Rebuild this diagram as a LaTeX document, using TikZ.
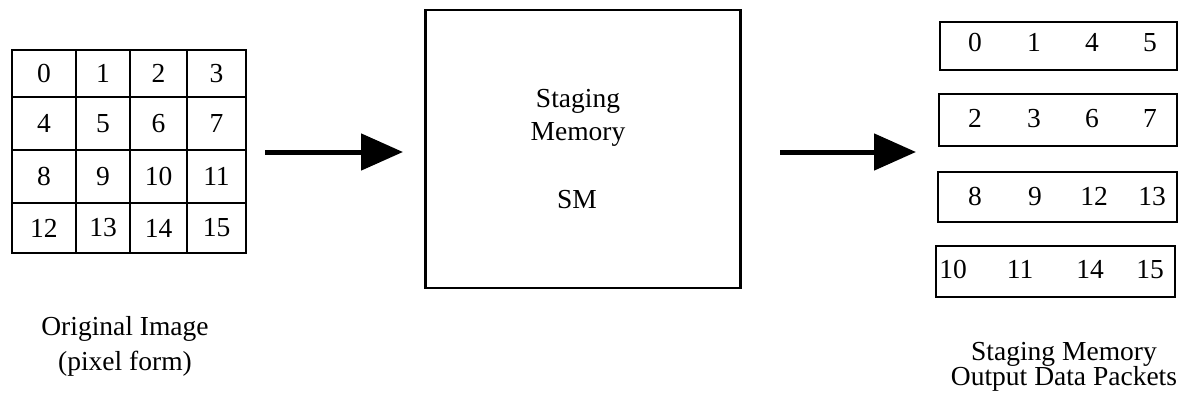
\documentclass[tikz,border=0pt]{standalone}
\usepackage{fontspec}
\setmainfont{Liberation Serif}
\usetikzlibrary{arrows.meta}
\begin{document}
\begin{tikzpicture}[x=1pt,y=-1pt,
  every node/.style={font=\fontsize{27.5}{30}\selectfont},
  cell/.style={draw, line width=2.8pt, inner sep=0pt, anchor=center},
  packet/.style={draw, line width=2.8pt, inner sep=0pt, anchor=center},
  smbox/.style={draw, line width=2.9pt, inner sep=0pt, anchor=center, minimum width=315pt, minimum height=278pt},
  num/.style={anchor=base, inner sep=0pt},
  lab/.style={anchor=base, inner sep=0pt},
  bigarrow/.style={line width=5pt, -{Triangle[length=42pt,width=36pt]}}]
\useasboundingbox (0,0) rectangle (1184,404);
% original image grid
\node[cell, minimum width=64pt, minimum height=47pt] (c0) at (44,73.5) {0};
\node[cell, minimum width=54pt, minimum height=47pt] (c1) at (103,73.5) {1};
\node[cell, minimum width=57pt, minimum height=47pt] (c2) at (158.5,73.5) {2};
\node[cell, minimum width=59pt, minimum height=47pt] (c3) at (216.5,73.5) {3};
\node[cell, minimum width=64pt, minimum height=53pt] (c4) at (44,123.5) {4};
\node[cell, minimum width=54pt, minimum height=53pt] (c5) at (103,123.5) {5};
\node[cell, minimum width=57pt, minimum height=53pt] (c6) at (158.5,123.5) {6};
\node[cell, minimum width=59pt, minimum height=53pt] (c7) at (216.5,123.5) {7};
\node[cell, minimum width=64pt, minimum height=53pt] (c8) at (44,176.5) {8};
\node[cell, minimum width=54pt, minimum height=53pt] (c9) at (103,176.5) {9};
\node[cell, minimum width=57pt, minimum height=53pt] (c10) at (158.5,176.5) {10};
\node[cell, minimum width=59pt, minimum height=53pt] (c11) at (216.5,176.5) {11};
\node[cell, minimum width=64pt, minimum height=50pt] (c12) at (44,228) {12};
\node[cell, minimum width=54pt, minimum height=50pt] (c13) at (103,228) {13};
\node[cell, minimum width=57pt, minimum height=50pt] (c14) at (158.5,228) {14};
\node[cell, minimum width=59pt, minimum height=50pt] (c15) at (216.5,228) {15};
\node[lab] (l1) at (125,335) {Original Image};
\node[lab] (l2) at (125,370) {(pixel form)};
% staging memory
\node[smbox] (sm) at (583,149) {};
\node[lab] (t1) at (578,107) {Staging};
\node[lab] (t2) at (578,140) {Memory};
\node[lab] (t3) at (577,208) {SM};
% arrows
\coordinate (a1s) at (265,152);
\coordinate (a1e) at (403,152);
\coordinate (a2s) at (780,152);
\coordinate (a2e) at (916,152);
\draw[bigarrow] (a1s) -- (a1e);
\draw[bigarrow] (a2s) -- (a2e);
% packets
\node[packet, minimum width=237pt, minimum height=48pt] (p1) at (1058.5,46) {};
\node[packet, minimum width=238pt, minimum height=52pt] (p2) at (1058,120) {};
\node[packet, minimum width=239pt, minimum height=50pt] (p3) at (1057.5,197) {};
\node[packet, minimum width=239pt, minimum height=51pt] (p4) at (1055.5,271.5) {};
\node[num] (n10) at (975,52) {0};
\node[num] (n11) at (1034,52) {1};
\node[num] (n12) at (1092,52) {4};
\node[num] (n13) at (1150,52) {5};
\node[num] (n20) at (975,127) {2};
\node[num] (n21) at (1034,127) {3};
\node[num] (n22) at (1092,127) {6};
\node[num] (n23) at (1150,127) {7};
\node[num] (n30) at (975,205) {8};
\node[num] (n31) at (1035,205) {9};
\node[num] (n32) at (1094,205) {12};
\node[num] (n33) at (1152,205) {13};
\node[num] (n40) at (953,278) {10};
\node[num] (n41) at (1020,278) {11};
\node[num] (n42) at (1090,278) {14};
\node[num] (n43) at (1150,278) {15};
\node[lab] (l3) at (1064,360) {Staging Memory};
\node[lab] (l4) at (1064,385) {Output Data Packets};
\end{tikzpicture}
\end{document}
